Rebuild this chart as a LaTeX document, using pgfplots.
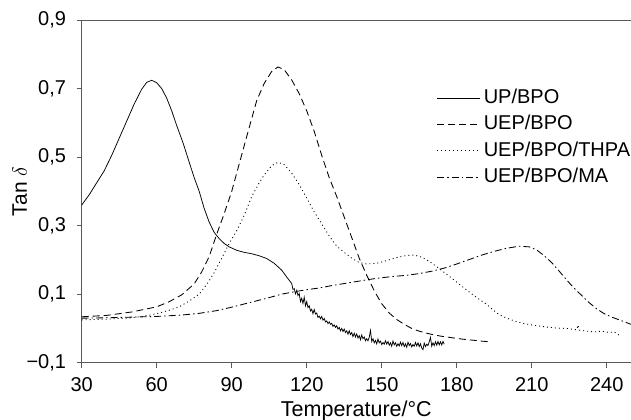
\documentclass[border=0pt]{standalone}
\usepackage{fontspec}
\setmainfont{Liberation Sans}
\usepackage{pgfplots}
\pgfplotsset{compat=1.18}
\definecolor{axgray}{gray}{0.35}
\begin{document}
\fontsize{20bp}{24bp}\selectfont
\begin{tikzpicture}
\begin{axis}[
  at={(0,0)}, anchor=south west,
  scale only axis, width=549.3bp, height=342.7bp,
  xmin=30, xmax=249.7, ymin=-0.1, ymax=0.9,
  axis lines*=left,
  axis line style={axgray, line width=0.7bp},
  xtick={30,60,90,120,150,180,210,240},
  xticklabels={30,60,90,120,150,180,210,240},
  ytick={-0.1,0.1,0.3,0.5,0.7,0.9},
  yticklabels={{−0,1},{0,1},{0,3},{0,5},{0,7},{0,9}},
  tick align=outside, major tick length=5bp,
  tick style={axgray, line width=0.6bp},
  xticklabel style={anchor=north, inner sep=0pt, yshift=-10bp},
  yticklabel style={anchor=east, inner sep=0pt, xshift=-10.5bp},
  xlabel={Temperature/°C},
  ylabel={Tan $\delta$},
  xlabel style={at={(axis description cs:0.5,-0.1576)}, anchor=base, font=\fontsize{21.5bp}{24bp}\selectfont},
  ylabel style={at={(axis description cs:-0.1129,0.5)}, anchor=center, font=\fontsize{21bp}{24bp}\selectfont},
  legend cell align=left,
  legend style={at={(axis cs:172,0.701)}, anchor=north west, draw=none, fill=none,
    inner sep=0pt, row sep=7.5bp, column sep=3bp,
    nodes={inner sep=0pt, text height=15bp, text depth=4bp}},
  legend image code/.code={\draw[#1] (0bp,0bp) -- (43bp,0bp);},
  every axis plot/.append style={black, line width=0.85bp},
]
\draw[axgray, line width=0.7bp] (rel axis cs:0,1) -- (rel axis cs:1,1);

% UP/BPO
\addplot[solid, line width=0.75bp] coordinates {
(30,0.360) (33,0.390) (36,0.425) (39,0.460) (42,0.505) (45,0.555) (48,0.605) (51,0.655)
(54,0.698) (56,0.718) (58,0.724) (60,0.717) (62,0.700) (64,0.672) (66,0.635) (68,0.592)
(70.6,0.540) (73,0.485) (75,0.440) (77,0.400) (79,0.350) (81,0.310) (83,0.280) (85,0.262)
(87,0.248) (89,0.238) (92,0.228) (95,0.222) (98,0.218) (101,0.212) (104,0.204) (107,0.190)
(110,0.170) (112,0.150)
(114.0,0.131) (114.5,0.114) (115.0,0.116) (115.5,0.101) (116.0,0.111) (116.5,0.096) (117.0,0.102) (117.5,0.078)
(118.0,0.088) (118.5,0.073) (119.0,0.091) (119.5,0.066) (120.0,0.078) (120.5,0.061) (121.0,0.066) (121.5,0.051)
(122.0,0.056) (122.5,0.043) (123.0,0.055) (123.5,0.042) (124.0,0.045) (124.5,0.032) (125.0,0.036) (125.5,0.028)
(126.0,0.035) (126.5,0.024) (127.0,0.029) (127.5,0.019) (128.0,0.022) (128.5,0.014) (129.0,0.019) (129.5,0.012)
(130.0,0.015) (130.5,0.006) (131.0,0.010) (131.5,0.003) (132.0,0.008) (132.5,-0.002) (133.0,0.003) (133.5,-0.007)
(134.0,0.000) (134.5,-0.009) (135.0,-0.002) (135.5,-0.012) (136.0,-0.007) (136.5,-0.017) (137.0,-0.007) (137.5,-0.018)
(138.0,-0.012) (138.5,-0.024) (139.0,-0.014) (139.5,-0.025) (140.0,-0.016) (140.5,-0.028) (141.0,-0.021) (141.5,-0.033)
(142.0,-0.019) (142.5,-0.030) (143.0,-0.025) (143.5,-0.036) (144.0,-0.030) (144.5,-0.036) (145.0,-0.026) (145.5,-0.006)
(146.0,-0.038) (146.5,-0.030) (147.0,-0.042) (147.5,-0.035) (148.0,-0.045) (148.5,-0.031) (149.0,-0.042) (149.5,-0.037)
(150.0,-0.047) (150.5,-0.041) (151.0,-0.046) (151.5,-0.036) (152.0,-0.046) (152.5,-0.038) (153.0,-0.049) (153.5,-0.042)
(154.0,-0.052) (154.5,-0.037) (155.0,-0.048) (155.5,-0.042) (156.0,-0.052) (156.5,-0.045) (157.0,-0.051) (157.5,-0.040)
(158.0,-0.050) (158.5,-0.041) (159.0,-0.053) (159.5,-0.045) (160.0,-0.055) (160.5,-0.040) (161.0,-0.050) (161.5,-0.044)
(162.0,-0.054) (162.5,-0.047) (163.0,-0.052) (163.5,-0.041) (164.0,-0.051) (164.5,-0.042) (165.0,-0.053) (165.5,-0.045)
(166.0,-0.057) (166.5,-0.062) (167.0,-0.043) (167.5,-0.053) (168.0,-0.046) (168.5,-0.050) (169.0,-0.039) (169.5,-0.026)
(170.0,-0.052) (170.5,-0.042) (171.0,-0.050) (171.5,-0.039) (172.0,-0.049) (172.5,-0.038) (173.0,-0.048) (173.5,-0.039)
(174.0,-0.048) (174.5,-0.038) (175.0,-0.046)
};
\addlegendentry{UP/BPO}

% UEP/BPO
\addplot[dash pattern=on 7bp off 4bp] coordinates {
(30,0.034) (40,0.038) (50,0.048) (60,0.063) (65,0.078) (70,0.098) (75,0.130) (78,0.165)
(81,0.210) (84,0.275) (87,0.335) (90,0.400) (93,0.480) (96,0.560) (100,0.665) (103,0.715)
(106,0.750) (108.5,0.763) (111,0.755) (114,0.725) (117,0.685) (120,0.635) (123,0.575) (126,0.505)
(129,0.440) (132,0.385) (135,0.325) (138,0.265) (141,0.205) (144,0.155) (147,0.110) (150,0.072)
(153,0.045) (156,0.026) (159,0.012) (162,0.000) (165,-0.008) (168,-0.014) (171,-0.019) (174,-0.023)
(178,-0.027) (182,-0.031) (186,-0.034) (190,-0.037) (193,-0.039)
};
\addlegendentry{UEP/BPO}

% UEP/BPO/THPA
\addplot[dash pattern=on 1bp off 3bp] coordinates {
(30,0.025) (40,0.027) (50,0.031) (55,0.036) (60,0.043) (65,0.053) (69,0.063) (73,0.080)
(77,0.100) (80,0.128) (83,0.163) (86,0.205) (89,0.248) (92,0.285) (95,0.330) (98,0.385)
(101,0.425) (103,0.448) (106,0.475) (108.5,0.485) (111,0.478) (114,0.453) (117,0.420) (120,0.380)
(123,0.340) (126,0.305) (129,0.270) (132,0.240) (135,0.222) (138,0.205) (141,0.192) (144,0.188)
(148,0.190) (152,0.198) (156,0.207) (160,0.213) (163,0.214) (166,0.208) (169,0.196) (172,0.180)
(176,0.158) (180,0.135) (184,0.112) (188,0.090) (192,0.070) (196,0.045) (199,0.033) (203,0.022)
(207,0.014) (211,0.009) (216,0.004) (220,0.001) (224,0.000) (228,-0.004) (228.5,0.010) (229,-0.005)
(232,-0.008) (235,-0.010) (238,-0.008) (241,-0.012) (243,-0.010) (245,-0.020)
};
\addlegendentry{UEP/BPO/THPA}

% UEP/BPO/MA
\addplot[dash pattern=on 7bp off 3bp on 1.5bp off 3bp] coordinates {
(30,0.030) (40,0.031) (50,0.033) (60,0.035) (70,0.039) (77,0.044) (84,0.052) (90,0.062)
(97,0.075) (104,0.088) (110,0.100) (115,0.107) (120,0.113) (125,0.118) (130,0.125) (135,0.131)
(140,0.137) (145,0.143) (150,0.148) (155,0.152) (160,0.155) (165,0.160) (170,0.167) (175,0.176)
(180,0.188) (185,0.201) (190,0.214) (195,0.225) (200,0.234) (205,0.240) (209,0.238) (212,0.229)
(215,0.212) (218,0.192) (221,0.167) (224,0.141) (227,0.117) (230,0.096) (233,0.075) (236,0.057)
(239,0.043) (242,0.033) (245,0.025) (249.7,0.012)
};
\addlegendentry{UEP/BPO/MA}
\end{axis}
\pgfresetboundingbox
\path (-81.7bp,-57.3bp) rectangle (549.3bp,362.7bp);
\end{tikzpicture}
\end{document}
